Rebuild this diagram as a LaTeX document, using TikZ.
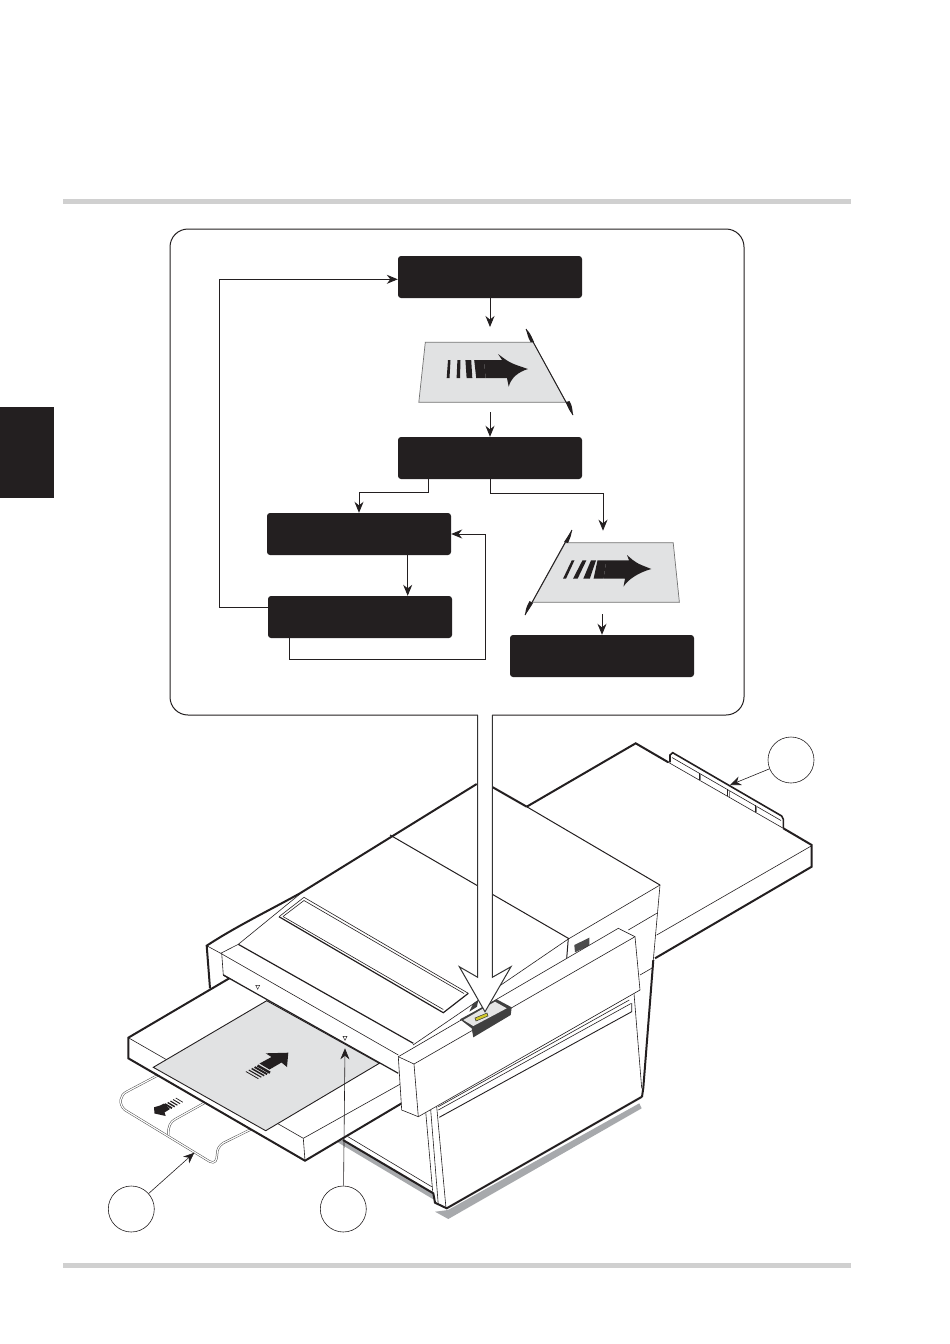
\documentclass[tikz,border=0pt]{standalone}
\usepackage{tikz}
\usetikzlibrary{arrows.meta,calc}
\definecolor{boxblack}{HTML}{231F20}
\definecolor{sheetgrey}{HTML}{E1E2E3}
\definecolor{rulegrey}{HTML}{D0D0D0}
\definecolor{shadowgrey}{HTML}{A7A9AC}
\tikzset{
	flowbox/.style={fill=boxblack, rounded corners=3pt, minimum width=184pt, minimum height=42pt, inner sep=0pt},
	flowline/.style={line width=0.9pt, boxblack, -{Stealth[length=11pt,width=9pt]}},
	callout/.style={draw=boxblack, fill=white, circle, line width=0.6pt, minimum size=46pt, inner sep=0pt},
	leader/.style={line width=0.6pt, boxblack, -{Stealth[length=11pt,width=9pt]}},
	heavy/.style={line width=2pt, line join=miter, draw=boxblack},
	medium/.style={line width=1.2pt, draw=boxblack},
	fine/.style={line width=0.6pt, draw=boxblack},
	sheet/.style={fill=sheetgrey, draw=black!55, line width=0.7pt},
	tube/.style={draw=black!70, double=white, double distance=1.2pt, line width=0.5pt},
}
\begin{document}
\begin{tikzpicture}[x=1pt,y=-1pt]
	\useasboundingbox (0,0) rectangle (950,1344);
	% page rules and tab
	\fill [rulegrey] (63,199) rectangle (851,204);
	\fill [rulegrey] (63,1263) rectangle (851,1268);
	\fill [boxblack] (0,407) rectangle (54,498);

	% rear table
	\draw [heavy] (526.7,806.7) -- (635.7,743.3) -- (668.3,762.3);
	\draw [heavy] (783.3,828.3) -- (811.7,845) -- (811.7,866.7) -- (655,958.3);
	\draw [fine] (811.7,845.7) -- (656.7,935);
	% paper guide behind the table
	\draw [heavy, line width=1.6pt] (670,762.3) -- (670,755) -- (672.7,752.7) -- (781.7,816) -- (783.3,819.3) -- (783.3,828.3);
	\draw [fine] (668.3,762.3) -- (783.3,828.3);
	\draw [fine] (672,757.5) -- (781,820.5);
	\foreach \gx/\gy in {699/772.5, 727.3/789, 755/805} {
		\draw [fine] (\gx,\gy) -- (\gx,\gy+7);
		\draw [fine, draw=black!50, line width=0.4pt] (\gx+1.5,\gy+1) -- (\gx+1.5,\gy+8);
	}

	% main body, upper surfaces
	\draw [heavy] (476.7,784) -- (300,893.3) .. controls (270,910) and (235,927) .. (206.7,945.7) -- (210,988.3);
	\draw [heavy] (492.3,787) -- (526.7,806.7);
	\draw [medium, line width=1pt] (526.7,806.7) -- (660,885);
	\draw [medium, line width=1pt] (390,835) -- (568.3,938.3) -- (566.7,958.3);
	\draw [fine] (660,885) -- (568.3,939) -- (413,1045);
	\draw [fine] (660,885) -- (653.3,960);
	\draw [heavy] (653.3,960) -- (643.3,1088) -- (642,1096.7);
	\draw [fine] (656.7,913.3) -- (628.3,930);
	\draw [fine] (653.3,967.3) -- (640,975);
	\draw [fine] (300,894) -- (238.3,944.3);
	\draw [fine] (206.7,945.7) -- (220.7,953.3);
	% lid bar
	\draw [medium] (238.3,944.3) -- (413.3,1043.3);
	\draw [fine] (220.7,953.3) -- (238.3,944.3);
	\draw [fine] (220.7,953.3) -- (398.3,1055);
	\draw [fine] (221.7,953.3) -- (223.3,975);
	\draw [medium] (223.3,975) -- (398.3,1073.3);
	% window in the lid
	\draw [medium] (279,916.7) -- (443.3,1012.7) -- (468.3,993.3);
	\draw [fine] (279,916.7) -- (304,897.3) -- (468.3,993.3);
	\draw [fine] (283,916.5) -- (304,900.5) -- (464,993.5);
	\draw [fine] (283,916.5) -- (443.3,1009.5);
	% vent
	\fill [black!70] (574.3,945) -- (589.3,937.7) -- (589.3,945.7) -- (575,952.3) -- cycle;

	% base under the tray
	\fill [shadowgrey] (336.7,1141.7) -- (343.3,1140) -- (433.3,1193.3) -- (433.3,1199.3) -- cycle;
	\fill [shadowgrey] (435,1211.7) -- (448.3,1219) -- (641.7,1108.3) -- (639.3,1103.3) -- (448,1210) -- cycle;
	\draw [heavy] (343,1140) -- (433.3,1193.3) -- (435,1202.7) -- (446.7,1208.3) -- (642,1096.7);
	\draw [fine] (348,1136.7) -- (431.7,1186.7);
	\draw [fine] (425.7,1111.7) -- (432.7,1191.7);
	\draw [fine] (430.7,1110) -- (438.3,1205);
	\draw [fine] (436.7,1106.7) -- (446,1208.3);
	\draw [fine] (438.3,1106.7) -- (629.3,1000);
	\draw [fine] (438.3,1110) -- (631,1003.5);
	\draw [medium, line width=0.9pt] (439.3,1117.3) -- (631.7,1011.7) -- (631.7,1003);
	\draw [fine] (634,993.3) -- (641.7,1088.3);

	% extension tray
	\draw [tube] (158.3,1075) -- (126.7,1091.7) .. controls (120,1095) and (118,1104) .. (125,1110) -- (210,1161.7) .. controls (215,1164) and (217,1160) .. (217,1155) .. controls (217,1149) and (219,1146) .. (223.3,1143) -- (255,1127.3);
	\draw [tube] (206.7,1101.7) -- (175,1119.3) .. controls (170,1122) and (168,1127) .. (168.3,1135);
	\fill [boxblack] (154,1107.3) -- (154.5,1113.5) -- (165.7,1116) -- (164.5,1112.5) -- (170,1109) -- (164,1103.5) -- (160,1105.5) -- cycle;
	\foreach \st/\sw in {0/1.8, 1/1.4, 2/1.1, 3/0.9, 4/0.7} {
		\draw [boxblack, line width=\sw pt] ($(165,1104)+(\st*2.7,-\st*1.5)$) -- ++(7,4.2);
	}

	% feed tray
	\fill [white] (229.3,978.3) -- (128.3,1037.7) -- (128.3,1058.3) -- (305,1160.7) -- (401.7,1103.3) -- (401.7,1060) -- cycle;
	\draw [heavy] (229.3,978.3) -- (128.3,1037.7) -- (128.3,1058.3) -- (305,1160.7) -- (401.7,1103.3);
	\draw [fine] (128.3,1037.7) -- (303.3,1138.3) -- (401.7,1083.3);
	\draw [fine] (303.3,1138.3) -- (305,1160.7);
	\draw [medium] (223.3,975) -- (398.3,1073.3);
	% paper on the tray
	\draw [fill=sheetgrey, draw=boxblack, line width=0.9pt] (266.7,1000.7) -- (379.3,1063.3) -- (265.7,1130.7) -- (153.3,1067.3) -- cycle;
	\fill [boxblack] (288.3,1052.7) -- (265.7,1053.3) -- (271.5,1057) -- (259.5,1063.5) -- (269.5,1069.5) -- (281.5,1062.5) -- (287,1067) -- cycle;
	\foreach \st/\sw in {0/2.4, 1/1.9, 2/1.5, 3/1.1, 4/0.8} {
		\draw [boxblack, line width=\sw pt] ($(257.5,1065.5)+(-\st*2.9,\st*1.5)$) -- ++(12.5,7.2);
	}
	% feed marks
	\foreach \mx/\my in {257.7/987.3, 345/1038.3} {
		\draw [fine, line width=0.4pt] (\mx-2,\my-2) -- (\mx+2,\my-2) -- (\mx,\my+2) -- cycle;
	}

	% control panel bar
	\draw [fine, fill=white] (398.3,1056.7) -- (618.3,928.3) -- (635,936.7) -- (640,990) -- (418.3,1116.7) -- (401.7,1110) -- cycle;
	\draw [fine] (398.3,1056.7) -- (414,1064) -- (635,936.7);
	\draw [fine] (414,1064) -- (418.3,1116.7);
	% control panel
	\fill [black!75] (469.3,1011.7) -- (473.3,1003.3) -- (478.3,1000) -- (477,1006.7) -- cycle;
	\fill [black!75] (460,1019.3) -- (496.7,999.3) -- (511.7,1007.3) -- (510.7,1015) -- (473.3,1037.3) -- (471.7,1028.3) -- cycle;
	\fill [black!10] (463.3,1020) -- (495,1001.7) -- (506.7,1008.3) -- (473.3,1026) -- cycle;
	\draw [fill=yellow!80!black, draw=black!80, line width=0.5pt] (475,1018) -- (487,1013) -- (488,1016) -- (476,1021) -- cycle;

	% flow panel
	\node [draw=boxblack, fill=white, line width=1pt, rounded corners=18pt, minimum width=574pt, minimum height=486pt, inner sep=0pt] (panel) at (457,472) {};
	% pointer from the panel to the controls
	\fill [white] (478,714) -- (492,714) -- (492.3,977.3) -- (511,966.7) -- (485,1011.7) -- (459.3,966.7) -- (477.7,977.3) -- cycle;
	\draw [line width=1pt, black!80] (477.7,715) -- (477.7,977.3) -- (459.3,966.7) -- (485,1011.7) -- (511,966.7) -- (492.3,977.3) -- (492.3,715);

	% the flow boxes
	\node [flowbox] (load) at (490,277) {};
	\node [flowbox] (check) at (490,458) {};
	\node [flowbox] (retry) at (359,534) {};
	\node [flowbox] (wait) at (360,617) {};
	\node [flowbox] (finish) at (602,656) {};
	\coordinate (sheetain) at (490,327);
	\coordinate (sheetaout) at (490,412);
	\coordinate (sheetbin) at (603,530.7);
	\coordinate (sheetbout) at (602,614);

	% first sheet
	\draw [sheet] (425.3,342.3) -- (533.3,342.3) -- (566.3,402.3) -- (418.8,402.3) -- cycle;
	\draw [line width=0.9pt, boxblack] (526,329) -- (573,415);
	\fill [boxblack] (526,329) .. controls (530,333) .. (534,342) -- (530.5,342) .. controls (528,337) .. cycle;
	\fill [boxblack] (566,402) -- (569.5,401) .. controls (572,406) .. (573,415) .. controls (569,410) .. cycle;
	\foreach \ta/\tb/\ba/\bb in {448/450.5/446.7/449.5, 457.4/460.5/456.6/460, 465.4/471.2/466.6/472.3, 474.2/483.8/476.2/485.7} {
		\fill [boxblack] (\ta,360) -- (\tb,360) -- (\bb,378) -- (\ba,378) -- cycle;
	}
	\fill [boxblack] (483.8,360) -- (502,360) -- (498,354) .. controls (510,363) .. (528,369) .. controls (518,372) and (511,378) .. (508.7,386.7) -- (507,378) -- (485.7,378) -- cycle;

	% second sheet
	\draw [sheet] (565.5,542.7) -- (673.2,542.7) -- (679.4,602.3) -- (532.3,602.3) -- cycle;
	\draw [line width=0.9pt, boxblack] (572,530) -- (525,615);
	\fill [boxblack] (572,530) .. controls (571,536) .. (568,543) -- (564,542) .. controls (568,536) .. cycle;
	\fill [boxblack] (529.5,601) -- (533,603) .. controls (530,608) .. (525,615) .. controls (526,608) .. cycle;
	\foreach \ta/\tb/\ba/\bb in {571.8/574.5/563/566, 582.5/586.4/573/577.6, 591/596/583.3/589.8, 597.5/606.3/593.6/603.6} {
		\fill [boxblack] (\ta,560.3) -- (\tb,560.3) -- (\bb,578.7) -- (\ba,578.7) -- cycle;
	}
	\fill [boxblack] (606.3,560.3) -- (629,560.3) -- (627,555) .. controls (636,563) .. (651.4,569) .. controls (640,572) and (628,579) .. (623.5,586.7) -- (625,578.7) -- (603.6,578.7) -- cycle;

	% connectors
	\draw [flowline] (load.south) -- (sheetain);
	\draw [flowline] (sheetaout) -- (check.north);
	\draw [flowline] ([xshift=-62pt]check.south) -- ++(0,13.3) -| (retry.north);
	\draw [flowline] (check.south) -- ++(0,14.3) -| (sheetbin);
	\draw [flowline] (sheetbout) -- (finish.north);
	\draw [flowline] ([xshift=48.7pt]retry.south) -- ([xshift=47.7pt]wait.north);
	\draw [flowline] ([yshift=9.7pt]wait.west) -- ++(-48.3,0) |- ([yshift=-2.3pt]load.west);
	\draw [flowline] ([xshift=-70.2pt]wait.south) -- ++(0,21.3) -- ++(195.2,0) |- (retry.east);

	% callouts
	\node [callout] (trayref) at (131.3,1209) {};
	\node [callout] (feedref) at (343.3,1209) {};
	\node [callout] (guideref) at (791,760) {};
	\coordinate (traytip) at (194.3,1152.7);
	\coordinate (feedtip) at (345,1048.3);
	\coordinate (guidetip) at (730,785);
	\draw [leader] (trayref) -- (traytip);
	\draw [leader] (feedref) -- (feedtip);
	\draw [leader] (guideref) -- (guidetip);
\end{tikzpicture}
\end{document}
